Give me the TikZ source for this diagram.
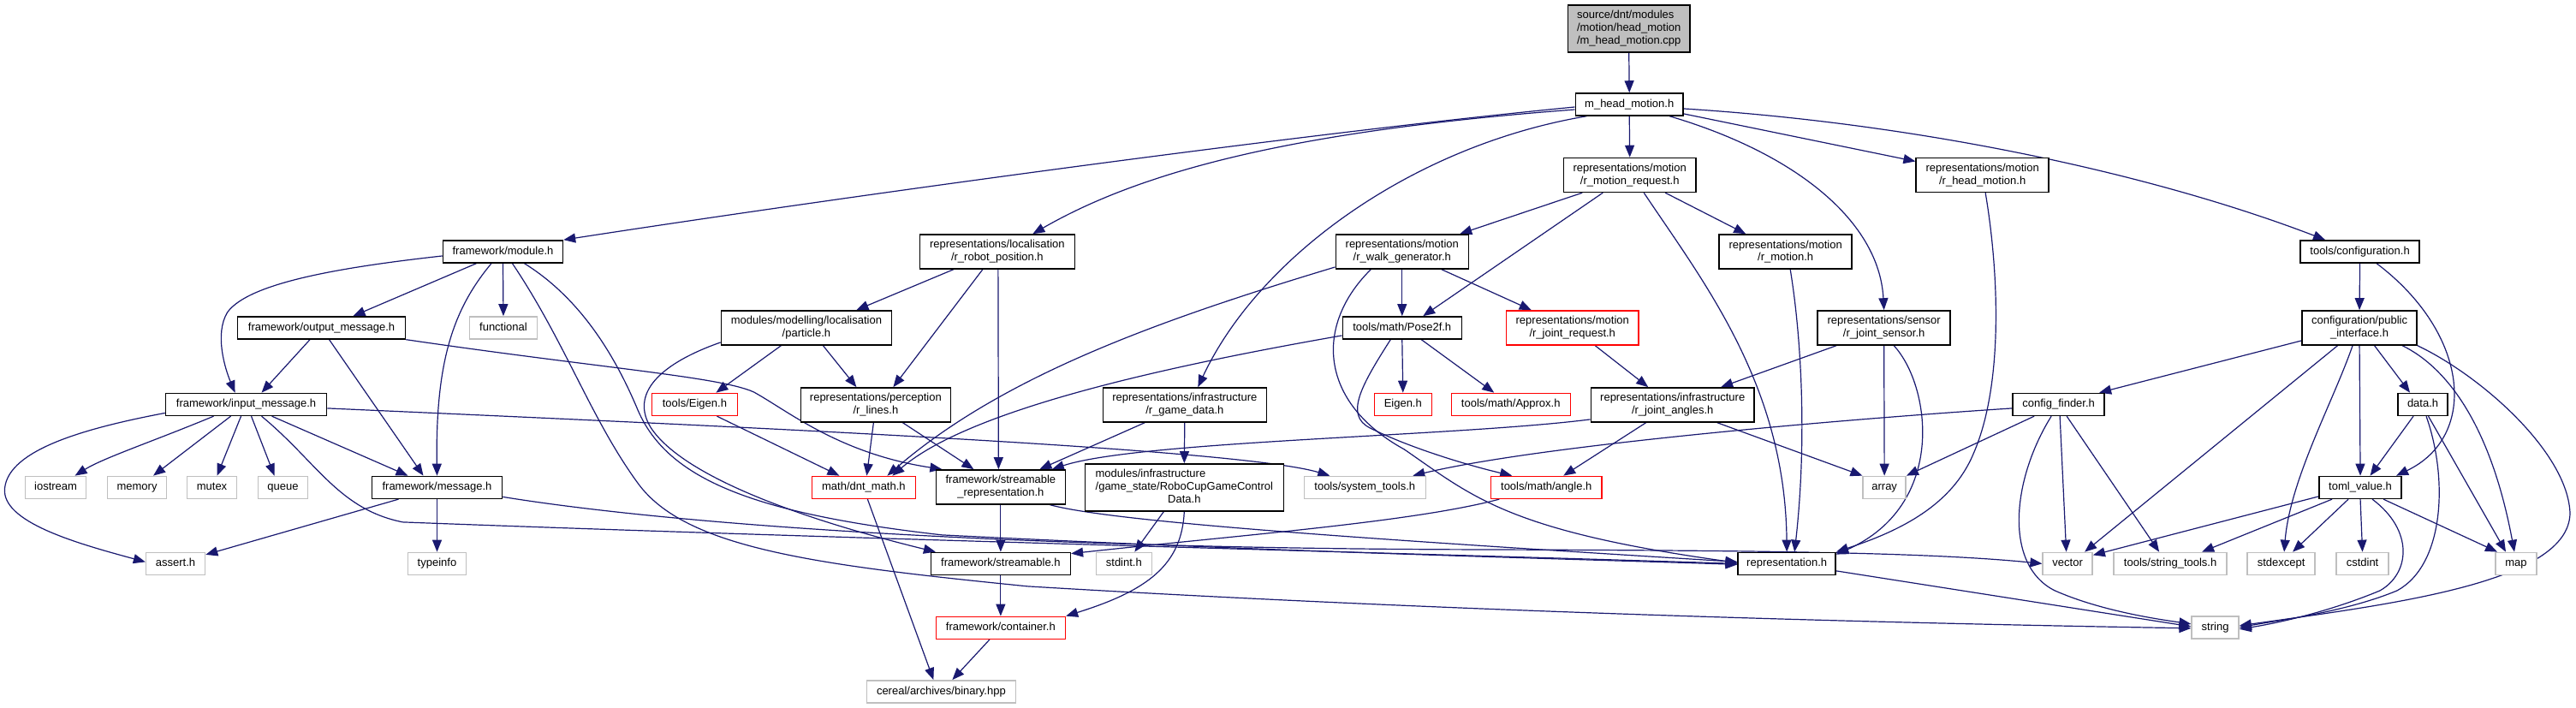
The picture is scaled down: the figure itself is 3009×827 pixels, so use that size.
\documentclass[tikz,border=0pt]{standalone}
\usepackage{fontspec}
\newfontfamily\dxfont{Liberation Sans}
\usetikzlibrary{arrows.meta}
\definecolor{edgec}{HTML}{191970}
\definecolor{grayb}{HTML}{BFBFBF}
\definecolor{redb}{HTML}{FF0000}
\definecolor{srcfill}{HTML}{BFBFBF}
\pgfdeclarelayer{back}
\pgfdeclarelayer{edges}
\pgfsetlayers{back,edges,main}
\newcommand\dxnode[6]{\node[#1,minimum width=#4pt,minimum height=#5pt] (#2) at (#3) {#6};}
\begin{document}
\begin{tikzpicture}[x=1pt,y=-1pt,font=\dxfont\fontsize{13}{14.7}\selectfont,
  nb/.style={draw=black,line width=1.5pt,fill=white,inner sep=0pt},
  one/.style={text height=9.4pt,text depth=2.8pt},
  ml/.style={nb,align=center},
  gb/.style={nb,draw=grayb},
  rb/.style={nb,draw=redb},
  ed/.style={draw=edgec,line width=1.2pt,-{Triangle[length=14pt,width=11pt]}}]
\begin{pgfonlayer}{back}
\path[use as bounding box,fill=white] (0,0) rectangle (3009,827);
\end{pgfonlayer}
% ---- nodes ----
\dxnode{nb,fill=srcfill}{source}{1902.5,33.5}{143}{55}{\begin{tabular}{@{}l@{}}source/dnt/modules\\/motion/head\_motion\\\multicolumn{1}{@{}c@{}}{/m\_head\_motion.cpp}\end{tabular}}
\dxnode{nb,one}{mhm}{1903,122}{126}{26}{m\_head\_motion.h}
\dxnode{nb,one}{module}{587,294}{140}{26}{framework/module.h}
\dxnode{ml}{rrp}{1164.5,294}{181}{40}{representations/localisation\\/r\_robot\_position.h}
\dxnode{ml}{rmr}{1903.5,204.5}{155}{40}{representations/motion\\/r\_motion\_request.h}
\dxnode{ml}{rhm}{2315.5,204.5}{155}{40}{representations/motion\\/r\_head\_motion.h}
\dxnode{nb,one}{conf}{2756.5,294}{139}{26}{tools/configuration.h}
\dxnode{ml}{rwg}{1637.5,294}{155}{40}{representations/motion\\/r\_walk\_generator.h}
\dxnode{ml}{rmo}{2085.5,294}{155}{40}{representations/motion\\/r\_motion.h}
\dxnode{nb,one}{om}{375,383}{196}{26}{framework/output\_message.h}
\dxnode{gb,one}{functional}{587.5,383}{79}{26}{functional}
\dxnode{ml}{particle}{941.5,383}{199}{40}{modules/modelling/localisation\\/particle.h}
\dxnode{nb,one}{pose}{1637.5,383}{139}{26}{tools/math/Pose2f.h}
\dxnode{ml,draw=redb}{rjr}{1836.5,383}{155}{40}{representations/motion\\/r\_joint\_request.h}
\dxnode{ml}{rjs}{2200.5,383}{155}{40}{representations/sensor\\/r\_joint\_sensor.h}
\dxnode{ml}{pi}{2756,383}{134}{40}{configuration/public\\\_interface.h}
\dxnode{nb,one}{im}{287,472.5}{188}{26}{framework/input\_message.h}
\dxnode{rb,one}{teig}{811,472.5}{100}{26}{tools/Eigen.h}
\dxnode{ml}{rl}{1022.5,473}{175}{40}{representations/perception\\/r\_lines.h}
\dxnode{ml}{rgd}{1383.5,473}{191}{40}{representations/infrastructure\\/r\_game\_data.h}
\dxnode{rb,one}{eig}{1638.5,472.5}{67}{26}{Eigen.h}
\dxnode{rb,one}{approx}{1764.5,472.5}{139}{26}{tools/math/Approx.h}
\dxnode{ml}{rja}{1953.5,473}{191}{40}{representations/infrastructure\\/r\_joint\_angles.h}
\dxnode{nb,one}{cf}{2404.5,472.5}{107}{26}{config\_finder.h}
\dxnode{nb,one}{data}{2830,472.5}{58}{26}{data.h}
\dxnode{gb,one}{iostream}{64.5,569.5}{71}{26}{iostream}
\dxnode{gb,one}{memory}{159.5,569.5}{69}{26}{memory}
\dxnode{gb,one}{mutex}{247,569.5}{58}{26}{mutex}
\dxnode{gb,one}{queue}{330,569.5}{58}{26}{queue}
\dxnode{nb,one}{msg}{510,569.5}{152}{26}{framework/message.h}
\dxnode{rb,one}{dm}{1008.5,569.5}{121}{26}{math/dnt\_math.h}
\dxnode{ml}{srep}{1168.5,569}{151}{40}{framework/streamable\\\_representation.h}
\dxnode{nb}{rc}{1383,569.5}{232}{55}{\begin{tabular}{@{}l@{}}modules/infrastructure\\/game\_state/RoboCupGameControl\\\multicolumn{1}{@{}c@{}}{Data.h}\end{tabular}}
\dxnode{gb,one}{st}{1594,569.5}{142}{26}{tools/system\_tools.h}
\dxnode{rb,one}{angle}{1806,569.5}{130}{26}{tools/math/angle.h}
\dxnode{gb,one}{array}{2201,569.5}{50}{26}{array}
\dxnode{nb,one}{toml}{2757,569.5}{96}{26}{toml\_value.h}
\dxnode{gb,one}{assert}{204.5,658.5}{69}{26}{assert.h}
\dxnode{gb,one}{typeinfo}{510,658.5}{68}{26}{typeinfo}
\dxnode{nb,one}{str}{1168.5,658.5}{163}{26}{framework/streamable.h}
\dxnode{gb,one}{stdint}{1312.5,658.5}{65}{26}{stdint.h}
\dxnode{nb,one}{rep}{2087,658.5}{114}{26}{representation.h}
\dxnode{gb,one}{vector}{2415,658.5}{58}{26}{vector}
\dxnode{gb,one}{sto}{2535,658.5}{132}{26}{tools/string\_tools.h}
\dxnode{gb,one}{stdexcept}{2664.5,658.5}{79}{26}{stdexcept}
\dxnode{gb,one}{cstdint}{2759.5,658.5}{61}{26}{cstdint}
\dxnode{gb,one}{map}{2939,658.5}{48}{26}{map}
\dxnode{rb,one}{cont}{1168.5,733.5}{151}{26}{framework/container.h}
\dxnode{gb,one}{string}{2587.5,733}{55}{26}{string}
\dxnode{gb,one}{binary}{1099,808}{174}{26}{cereal/archives/binary.hpp}
% ---- edges ----
\begin{pgfonlayer}{edges}
\draw[ed] (source.south) -- (mhm.north);
\draw[ed] ([yshift=-3pt]mhm.west) .. controls (1500,158) and (950,235) .. (module.north east);
\draw[ed] ([yshift=-6pt]mhm.west) .. controls (1550,150) and (1350,190) .. ([xshift=41.5pt]rrp.north);
\draw[ed] ([xshift=-50pt]mhm.south) .. controls (1650,170) and (1470,300) .. ([xshift=15.5pt]rgd.north);
\draw[ed] (mhm.south) -- (rmr.north);
\draw[ed] ([xshift=47pt]mhm.south) .. controls (2100,180) and (2195,260) .. (rjs.north);
\draw[ed] ([yshift=-11pt]mhm.east) -- ([yshift=16pt]rhm.west);
\draw[ed] ([yshift=-5pt]mhm.east) .. controls (2250,145) and (2520,205) .. ([xshift=-40.5pt]conf.north);
% r_motion_request
\draw[ed] ([xshift=-55.5pt]rmr.south) -- ([xshift=67.5pt]rwg.north);
\draw[ed] ([xshift=-31.5pt]rmr.south) -- ([xshift=24.5pt]pose.north);
\draw[ed] ([xshift=41.5pt]rmr.south) -- ([xshift=-46.5pt]rmo.north);
\draw[ed] ([xshift=16.5pt]rmr.south) .. controls (1990,330) and (2085,450) .. (rep.north);
% r_walk_generator
\draw[ed] (rwg.south) -- (pose.north);
\draw[ed] ([xshift=46pt]rwg.south) -- ([xshift=-48pt]rjr.north);
\draw[ed] ([yshift=-18pt]rwg.west) .. controls (1350,375) and (1170,440) .. ([xshift=27.5pt]dm.north);
\draw[ed] ([xshift=-36.5pt]rwg.south) .. controls (1535,380) and (1540,470) .. (1640,525) .. controls (1720,580) and (1760,620) .. ([yshift=1pt]rep.west);
% Pose2f
\draw[ed] (pose.south) -- (eig.north);
\draw[ed] ([xshift=22.5pt]pose.south) -- ([xshift=-19.5pt]approx.north);
\draw[ed] ([xshift=-13.5pt]pose.south) .. controls (1590,450) and (1570,485) .. (1600,500) .. controls (1650,525) and (1720,545) .. ([xshift=-40pt]angle.north);
\draw[ed] ([yshift=-9pt]pose.west) .. controls (1350,430) and (1130,480) .. ([xshift=33.5pt]dm.north);
% joint request / sensor / angles
\draw[ed] ([xshift=26.5pt]rjr.south) -- ([xshift=-28.5pt]rja.north);
\draw[ed] ([xshift=-55.5pt]rjs.south) -- ([xshift=56.5pt]rja.north);
\draw[ed] (rjs.south) -- (array.north);
\draw[ed] ([xshift=11.5pt]rjs.south) .. controls (2255,450) and (2275,590) .. ([yshift=-3pt]rep.north east);
\draw[ed] ([xshift=3.5pt]rhm.south) .. controls (2335,320) and (2340,450) .. (2305,530) .. controls (2280,590) and (2220,620) .. (rep.north east);
\draw[ed] ([xshift=5.5pt]rmo.south) .. controls (2105,400) and (2110,520) .. ([xshift=9pt]rep.north);
\draw[ed] ([xshift=-31pt]rja.south) -- ([xshift=20pt]angle.north);
\draw[ed] ([xshift=52pt]rja.south) -- (array.north west);
\draw[ed] ([yshift=-17pt]rja.west) .. controls (1700,510) and (1330,515) .. ([xshift=60pt]srep.north);
% robot position
\draw[ed] ([xshift=-51pt]rrp.south) -- ([xshift=58.5pt]particle.north);
\draw[ed] ([xshift=-17pt]rrp.south) -- ([xshift=20.5pt]rl.north);
\draw[ed] ([xshift=1pt]rrp.south) -- ([xshift=-2.5pt]srep.north);
% particle
\draw[ed] ([xshift=-29.5pt]particle.south) -- ([xshift=25pt]teig.north);
\draw[ed] ([xshift=19.5pt]particle.south) -- ([xshift=-22.5pt]rl.north);
\draw[ed] ([yshift=-17pt]particle.west) .. controls (770,425) and (735,460) .. (760,500) .. controls (800,560) and (950,610) .. ([xshift=-76pt]str.north);
\draw[ed] ([xshift=26pt]teig.south) -- ([xshift=-28.5pt]dm.north);
\draw[ed] ([xshift=-2.5pt]rl.south) -- ([xshift=3.5pt]dm.north);
\draw[ed] ([xshift=31.5pt]rl.south) -- ([xshift=-31.5pt]srep.north);
\draw[ed] ([xshift=4.5pt]dm.south) -- ([xshift=-9pt]binary.north);
% game data
\draw[ed] ([xshift=-46.5pt]rgd.south) -- ([xshift=45.5pt]srep.north);
\draw[ed] (rgd.south) -- (rc.north);
\draw[ed] (srep.south) -- (str.north);
\draw[ed] ([xshift=57.5pt]srep.south) .. controls (1300,610) and (1600,630) .. ([yshift=2pt]rep.west);
\draw[ed] ([xshift=-24pt]rc.south) -- ([xshift=12.5pt]stdint.north);
\draw[ed] (rc.south) .. controls (1380,660) and (1340,690) .. (cont.north east);
\draw[ed] (str.south) -- (cont.north);
\draw[ed] ([xshift=-13pt]cont.south) -- ([xshift=13pt]binary.north);
\draw[ed] ([xshift=-55pt]angle.south) .. controls (1650,610) and (1450,625) .. ([yshift=-2pt]str.north east);
% input message
\draw[ed] ([xshift=-38pt]im.south) .. controls (180,515) and (120,535) .. ([xshift=22.5pt]iostream.north);
\draw[ed] ([xshift=-18pt]im.south) -- ([xshift=19pt]memory.north);
\draw[ed] ([xshift=-6pt]im.south) -- ([xshift=6pt]mutex.north);
\draw[ed] ([xshift=6pt]im.south) -- ([xshift=-10pt]queue.north);
\draw[ed] ([xshift=30pt]im.south) -- ([xshift=-34pt]msg.north);
\draw[ed] ([yshift=-10pt]im.west) .. controls (100,500) and (10,525) .. (5,570) .. controls (0,610) and (90,635) .. ([yshift=2pt]assert.west);
\draw[ed] ([yshift=-4.5pt]im.east) .. controls (900,500) and (1450,525) .. ([xshift=-41pt]st.north);
\draw[ed] ([xshift=18pt]im.south) .. controls (370,540) and (395,595) .. (470,610) .. controls (1000,630) and (1600,645) .. (rep.west);
% message
\draw[ed] ([yshift=-11pt]msg.east) .. controls (800,615) and (1200,640) .. (1700,642) .. controls (2050,643) and (2250,645) .. (vector.west);
\draw[ed] ([xshift=-45pt]msg.south) -- ([yshift=10.5pt]assert.east);
\draw[ed] (msg.south) -- (typeinfo.north);
% output message
\draw[ed] ([xshift=-13.5pt]om.south) -- ([xshift=18pt]im.north);
\draw[ed] ([xshift=9pt]om.south) -- ([xshift=-16pt]msg.north);
\draw[ed] (om.south east) .. controls (700,430) and (840,440) .. (880,458) .. controls (920,480) and (980,530) .. ([xshift=-68.5pt]srep.north);
% module
\draw[ed] ([yshift=-5pt]module.west) .. controls (400,312) and (290,330) .. (265,365) .. controls (250,390) and (262,430) .. ([xshift=-13pt]im.north);
\draw[ed] ([xshift=-31pt]module.south) -- ([xshift=37pt]om.north);
\draw[ed] (module.south) -- (functional.north);
\draw[ed] ([xshift=-13.5pt]module.south) .. controls (530,360) and (508,420) .. (msg.north);
\draw[ed] ([xshift=11pt]module.south) .. controls (660,400) and (690,490) .. (745,565) .. controls (800,640) and (950,660) .. (1200,685) .. controls (1700,715) and (2200,728) .. ([yshift=-1pt]string.west);
\draw[ed] ([xshift=25pt]module.south) .. controls (680,350) and (720,420) .. (745,480) .. controls (780,560) and (880,600) .. (1100,625) .. controls (1500,645) and (1800,652) .. ([yshift=-1pt]rep.west);
% configuration
\draw[ed] (conf.south) -- (pi.north);
\draw[ed] ([xshift=19.5pt]conf.south) .. controls (2885,390) and (2895,510) .. ([xshift=42pt]toml.north);
\draw[ed] ([yshift=-15pt]pi.west) -- ([xshift=47.5pt]cf.north);
\draw[ed] ([xshift=-25.5pt]pi.south) -- ([xshift=20pt]vector.north);
\draw[ed] ([xshift=-8pt]pi.south) .. controls (2725,470) and (2675,560) .. ([xshift=3.5pt]stdexcept.north);
\draw[ed] (pi.south) -- (toml.north);
\draw[ed] ([xshift=17.5pt]pi.south) -- ([xshift=-15pt]data.north);
\draw[ed] ([xshift=50pt]pi.south) .. controls (2860,430) and (2910,500) .. ([xshift=-2pt]map.north);
\draw[ed] (pi.south east) .. controls (2900,440) and (3000,530) .. (3002,600) .. controls (3000,680) and (2800,705) .. ([yshift=2pt]string.east);
% config finder
\draw[ed] ([yshift=-4.5pt]cf.west) .. controls (2150,490) and (1800,520) .. ([xshift=56pt]st.north);
\draw[ed] ([xshift=-28.5pt]cf.south) -- (array.north east);
\draw[ed] ([xshift=-8.5pt]cf.south) .. controls (2350,560) and (2340,660) .. (2400,690) .. controls (2450,712) and (2510,722) .. ([yshift=4pt]string.west);
\draw[ed] ([xshift=1.5pt]cf.south) -- ([xshift=-1.5pt]vector.north);
\draw[ed] ([xshift=9.5pt]cf.south) -- ([xshift=-13pt]sto.north);
% data
\draw[ed] ([xshift=-11pt]data.south) -- ([xshift=11.5pt]toml.north);
\draw[ed] ([xshift=6.5pt]data.south) -- ([xshift=-12pt]map.north);
\draw[ed] ([xshift=4pt]data.south) .. controls (2860,560) and (2855,660) .. (2800,690) .. controls (2740,715) and (2660,725) .. ([yshift=0pt]string.east);
% toml
\draw[ed] ([yshift=-10.5pt]toml.west) -- ([yshift=10pt]vector.east);
\draw[ed] ([xshift=-33pt]toml.south) -- ([xshift=37pt]sto.north);
\draw[ed] ([xshift=-14pt]toml.south) -- ([xshift=13.5pt]stdexcept.north);
\draw[ed] (toml.south) -- (cstdint.north);
\draw[ed] ([xshift=14pt]toml.south) .. controls (2820,620) and (2815,670) .. (2780,690) .. controls (2720,715) and (2660,728) .. ([yshift=-2pt]string.east);
\draw[ed] ([xshift=27pt]toml.south) -- ([xshift=-22pt]map.north);
% representation
\draw[ed] ([yshift=-8.5pt]rep.east) -- ([yshift=1pt]string.west);
\end{pgfonlayer}
\end{tikzpicture}
\end{document}
